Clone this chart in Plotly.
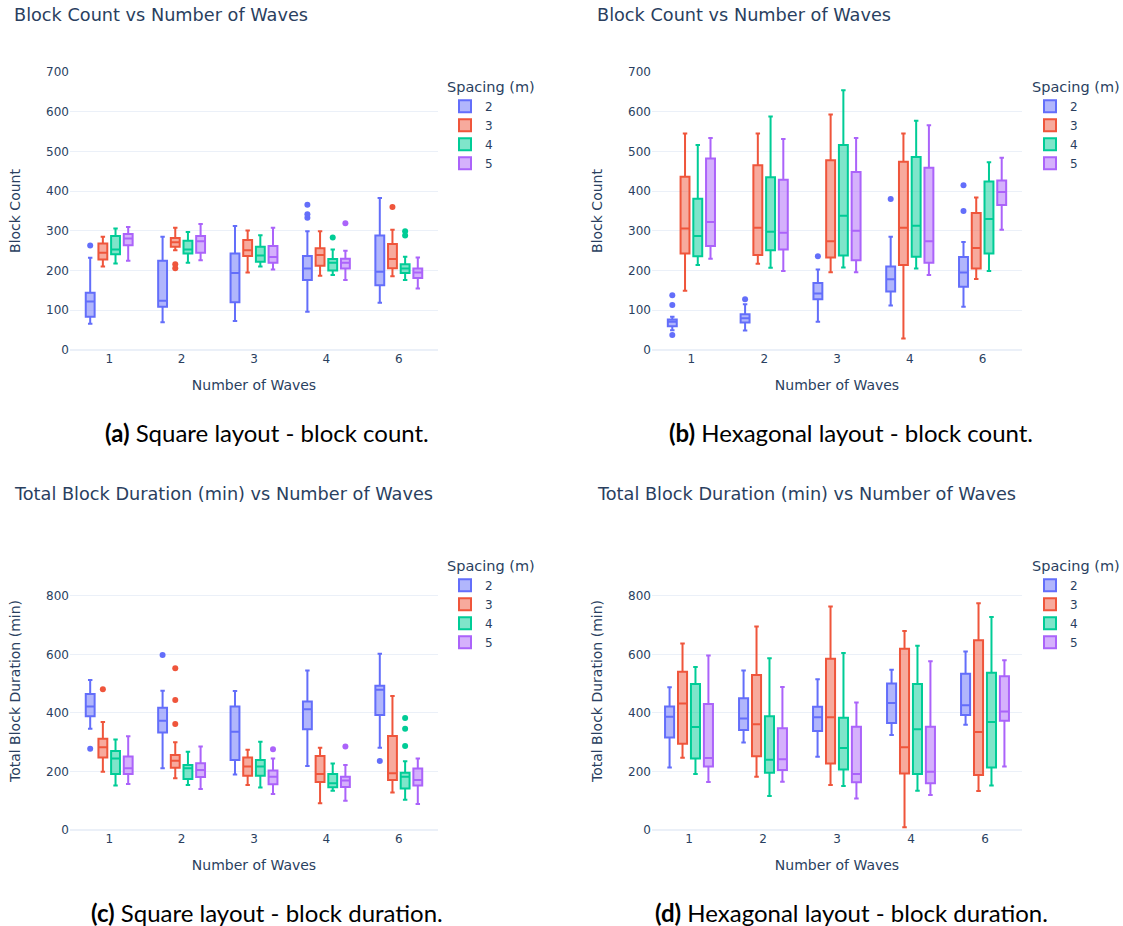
import plotly.graph_objects as go

# Number of waves (categorical x axis) and spacing groups
waves = ["1", "2", "3", "4", "6"]
spacings = ["2", "3", "4", "5"]
colors = ["#636efa", "#EF553B", "#00cc96", "#ab63fa"]

# Box statistics: rows = spacing (2, 3, 4, 5), columns = number of waves (1, 2, 3, 4, 6)

# Square layout - block count
sq_count_lo = [[66, 70, 73, 96, 119], [210, 251, 195, 187, 186], [218, 220, 210, 189, 176], [225, 226, 203, 176, 155]]
sq_count_q1 = [[84, 109, 120, 176, 163], [228, 260, 237, 212, 206], [241, 243, 222, 200, 194], [264, 245, 220, 205, 181]]
sq_count_med = [[122, 124, 194, 205, 197], [245, 271, 251, 239, 229], [253, 253, 238, 220, 205], [281, 274, 234, 220, 195]]
sq_count_q3 = [[144, 225, 243, 237, 288], [268, 282, 277, 256, 267], [287, 275, 260, 229, 216], [292, 287, 262, 230, 205]]
sq_count_hi = [[232, 285, 312, 299, 383], [285, 308, 301, 299, 303], [306, 297, 289, 253, 235], [310, 317, 308, 250, 233]]
sq_count_out = [
    [[263], [], [], [366, 342, 333], []],
    [[], [216, 206], [], [], [360]],
    [[], [], [], [283], [299, 288]],
    [[], [], [], [319], []],
]

# Hexagonal layout - block count
hex_count_lo = [[50, 49, 71, 112, 109], [149, 217, 196, 29, 179], [214, 207, 208, 205, 199], [230, 199, 196, 189, 303]]
hex_count_q1 = [[60, 69, 128, 147, 159], [243, 239, 233, 214, 205], [236, 251, 238, 235, 243], [262, 253, 226, 220, 365]]
hex_count_med = [[71, 80, 142, 178, 195], [306, 308, 274, 308, 257], [287, 298, 338, 313, 330], [322, 295, 300, 274, 398]]
hex_count_q3 = [[77, 90, 169, 210, 234], [436, 465, 478, 474, 345], [381, 435, 516, 486, 424], [482, 429, 448, 459, 427]]
hex_count_hi = [[84, 115, 203, 285, 272], [545, 545, 593, 545, 384], [516, 588, 654, 577, 473], [534, 531, 534, 566, 484]]
hex_count_out = [
    [[138, 113, 38], [128], [236], [380], [415, 350]],
    [[], [], [], [], []],
    [[], [], [], [], []],
    [[], [], [], [], []],
]

# Square layout - total block duration (min)
sq_dur_lo = [[346, 211, 190, 219, 281], [199, 177, 154, 91, 128], [152, 154, 145, 134, 103], [157, 140, 123, 100, 89]]
sq_dur_q1 = [[389, 333, 239, 344, 393], [248, 213, 185, 164, 171], [191, 174, 185, 146, 142], [191, 181, 156, 147, 152]]
sq_dur_med = [[422, 373, 336, 413, 479], [283, 237, 217, 191, 194], [244, 211, 217, 160, 182], [211, 205, 182, 169, 171]]
sq_dur_q3 = [[465, 418, 422, 439, 493], [312, 256, 248, 253, 321], [270, 222, 239, 191, 196], [251, 228, 203, 182, 210]]
sq_dur_hi = [[513, 476, 475, 545, 602], [369, 300, 274, 281, 458], [309, 267, 302, 227, 235], [320, 285, 244, 222, 244]]
sq_dur_out = [
    [[278], [598], [], [], [236]],
    [[481], [553, 444, 362], [], [], []],
    [[], [], [], [], [383, 346, 287]],
    [[], [], [276], [285], []],
]

# Hexagonal layout - total block duration (min)
hex_dur_lo = [[214, 299, 250, 325, 360], [247, 182, 154, 9, 133], [191, 116, 150, 134, 152], [164, 165, 108, 120, 217]]
hex_dur_q1 = [[316, 342, 338, 366, 393], [295, 252, 227, 193, 188], [244, 196, 207, 191, 214], [217, 205, 163, 160, 373]]
hex_dur_med = [[387, 381, 385, 434, 426], [432, 361, 385, 283, 335], [352, 240, 280, 344, 369], [246, 242, 191, 199, 405]]
hex_dur_q3 = [[422, 450, 421, 501, 534], [541, 530, 585, 619, 648], [499, 389, 384, 499, 537], [431, 348, 353, 353, 525]]
hex_dur_hi = [[488, 545, 515, 548, 610], [637, 695, 764, 680, 775], [557, 587, 605, 630, 728], [596, 489, 436, 577, 580]]
hex_dur_out = [[[], [], [], [], []] for _ in range(4)]

W, H = 1123, 926
font_color = "#2a3f5f"


def px_x(v):
    return v / W


def px_y(v):
    return 1 - v / H


def sample_points(lists):
    # plotly needs a non-empty inner list to treat y as per-box samples;
    # a None entry keeps the box without drawing any point
    return [vals if vals else [None] for vals in lists]


panels = [
    dict(ax="", leg="legend", stats=(sq_count_lo, sq_count_q1, sq_count_med, sq_count_q3, sq_count_hi, sq_count_out),
         xdom=(70, 438), ydom=(350, 72), yrange=[0, 700], ytitle="Block Count",
         title="Block Count vs Number of Waves", tx=12, ty=15, lx=445, ly=73,
         caption="<b>(a)</b> Square layout - block count.", cx=267, cy=432),
    dict(ax="2", leg="legend2", stats=(hex_count_lo, hex_count_q1, hex_count_med, hex_count_q3, hex_count_hi, hex_count_out),
         xdom=(652, 1022), ydom=(350, 72), yrange=[0, 700], ytitle="Block Count",
         title="Block Count vs Number of Waves", tx=595, ty=15, lx=1030, ly=73,
         caption="<b>(b)</b> Hexagonal layout - block count.", cx=851, cy=432),
    dict(ax="3", leg="legend3", stats=(sq_dur_lo, sq_dur_q1, sq_dur_med, sq_dur_q3, sq_dur_hi, sq_dur_out),
         xdom=(70, 438), ydom=(830, 552), yrange=[0, 950], ytitle="Total Block Duration (min)",
         title="Total Block Duration (min) vs Number of Waves", tx=12, ty=494, lx=445, ly=552,
         caption="<b>(c)</b> Square layout - block duration.", cx=267, cy=912),
    dict(ax="4", leg="legend4", stats=(hex_dur_lo, hex_dur_q1, hex_dur_med, hex_dur_q3, hex_dur_hi, hex_dur_out),
         xdom=(652, 1022), ydom=(830, 552), yrange=[0, 950], ytitle="Total Block Duration (min)",
         title="Total Block Duration (min) vs Number of Waves", tx=595, ty=494, lx=1030, ly=552,
         caption="<b>(d)</b> Hexagonal layout - block duration.", cx=851, cy=912),
]

fig = go.Figure()
layout = dict(
    width=W, height=H, margin=dict(l=0, r=0, t=0, b=0),
    template="plotly_white", boxmode="group", showlegend=True,
    font=dict(family="DejaVu Sans, Verdana, sans-serif", color=font_color, size=12),
    annotations=[],
)

for p in panels:
    lo, q1, med, q3, hi, out = p["stats"]
    for k, sp in enumerate(spacings):
        fig.add_trace(go.Box(
            x=waves, q1=q1[k], median=med[k], q3=q3[k],
            lowerfence=lo[k], upperfence=hi[k], y=sample_points(out[k]),
            orientation="v", boxpoints="outliers",
            name=sp, legendgroup=p["leg"] + sp, legend=p["leg"], showlegend=True,
            offsetgroup=sp, marker_color=colors[k], line_color=colors[k],
            xaxis="x" + p["ax"], yaxis="y" + p["ax"],
        ))
    xa = "xaxis" + p["ax"]
    ya = "yaxis" + p["ax"]
    layout[xa] = dict(
        domain=[px_x(p["xdom"][0]), px_x(p["xdom"][1])], anchor="y" + p["ax"],
        type="category", categoryorder="array", categoryarray=waves,
        title=dict(text="Number of Waves", font=dict(size=14)), automargin=False,
    )
    layout[ya] = dict(
        domain=[px_y(p["ydom"][0]), px_y(p["ydom"][1])], anchor="x" + p["ax"],
        range=p["yrange"], title=dict(text=p["ytitle"], font=dict(size=14), standoff=22),
        automargin=False,
    )
    layout[p["leg"]] = dict(
        x=px_x(p["lx"]), y=px_y(p["ly"]), xanchor="left", yanchor="top",
        title=dict(text="Spacing (m)", font=dict(size=14.5)), tracegroupgap=0,
        bgcolor="rgba(0,0,0,0)", visible=True, font=dict(size=12),
    )
    layout["annotations"].append(dict(
        text=p["title"], x=px_x(p["tx"]), y=px_y(p["ty"]), xref="paper", yref="paper",
        xanchor="left", yanchor="middle", showarrow=False,
        font=dict(size=17.7, color=font_color),
    ))
    layout["annotations"].append(dict(
        text=p["caption"], x=px_x(p["cx"]), y=px_y(p["cy"]), xref="paper", yref="paper",
        xanchor="center", yanchor="middle", showarrow=False,
        font=dict(family="Lato", size=24, color="black"),
    ))

fig.update_layout(**layout)
fig.write_html("out.html")
